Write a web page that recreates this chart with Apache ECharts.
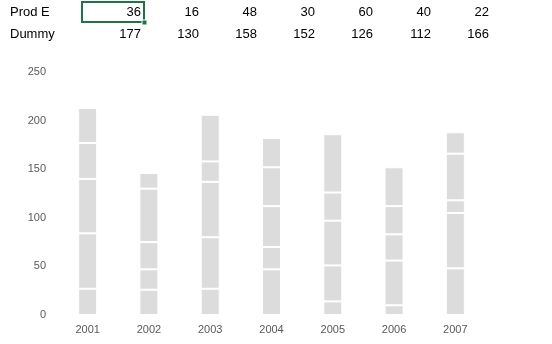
<!DOCTYPE html>
<html lang="en">
  <head>
    <meta charset="UTF-8" />
    <script src="https://cdn.jsdelivr.net/npm/echarts@6/dist/echarts.min.js"></script>
    <title>Stacked columns</title>
    <style>
      html, body { margin: 0; padding: 0; background: #fff; }
    </style>
  </head>
  <body>
    <div id="container" style="width: 552px; height: 344px;"></div>

    <script>
      const years = ["2001", "2002", "2003", "2004", "2005", "2006", "2007"];

      // table rows shown above the chart
      const prodE = [36, 16, 48, 30, 60, 40, 22];
      const dummy = [177, 130, 158, 152, 126, 112, 166];

      // stacked pieces, bottom to top
      const partA = [27, 26, 27, 47, 14, 10, 48];
      const partB = [57, 21, 53, 23, 37, 46, 57];
      const partC = [56, 28, 57, 42, 46, 27, 13];
      const partD = [37, 55, 21, 40, 29, 29, 48];

      const yTicks = [0, 50, 100, 150, 200, 250];

      const myChart = echarts.init(document.getElementById("container"));

      const font = "'Liberation Sans', Arial, sans-serif";

      function seg(name, data) {
        return {
          name: name,
          type: "bar",
          stack: "all",
          data: data,
          barWidth: 19,
          itemStyle: {
            color: "#dddcdd",
            borderColor: "#ffffff",
            borderWidth: 1,
          },
        };
      }

      // table texts as graphic elements
      const graphics = [
        { type: "text", left: 10, top: 6, style: { text: "Prod E", font: "13px " + font, fill: "#000" } },
        { type: "text", left: 10, top: 28, style: { text: "Dummy", font: "13px " + font, fill: "#000" } },
        {
          type: "rect",
          shape: { x: 82, y: 2, width: 62, height: 20 },
          style: { fill: "none", stroke: "#217346", lineWidth: 2 },
        },
        { type: "rect", shape: { x: 142, y: 20, width: 5, height: 5 }, style: { fill: "#217346", stroke: "#fff", lineWidth: 1 } },
      ];
      prodE.forEach((v, i) => {
        graphics.push({
          type: "text",
          x: 141 + 58 * i,
          y: 6,
          style: { text: String(v), font: "13px " + font, fill: "#000", align: "right" },
        });
      });
      dummy.forEach((v, i) => {
        graphics.push({
          type: "text",
          x: 141 + 58 * i,
          y: 28,
          style: { text: String(v), font: "13px " + font, fill: "#000", align: "right" },
        });
      });

      const option = {
        animation: false,
        grid: {
          top: 72,
          bottom: 29,
          left: 57,
          right: 66,
        },
        xAxis: {
          type: "category",
          data: years,
          axisLine: { show: false },
          axisTick: { show: false },
          axisLabel: { color: "#595959", fontSize: 11, fontFamily: font, margin: 9 },
        },
        yAxis: {
          type: "value",
          min: yTicks[0],
          max: yTicks[yTicks.length - 1],
          interval: 50,
          splitLine: { show: false },
          axisLine: { show: false },
          axisTick: { show: false },
          axisLabel: { color: "#595959", fontSize: 11, fontFamily: font, margin: 11 },
        },
        series: [
          seg("A", partA),
          seg("B", partB),
          seg("C", partC),
          seg("D", partD),
          seg("Prod E", prodE),
        ],
        graphic: graphics,
      };

      myChart.setOption(option);
    </script>
  </body>
</html>
